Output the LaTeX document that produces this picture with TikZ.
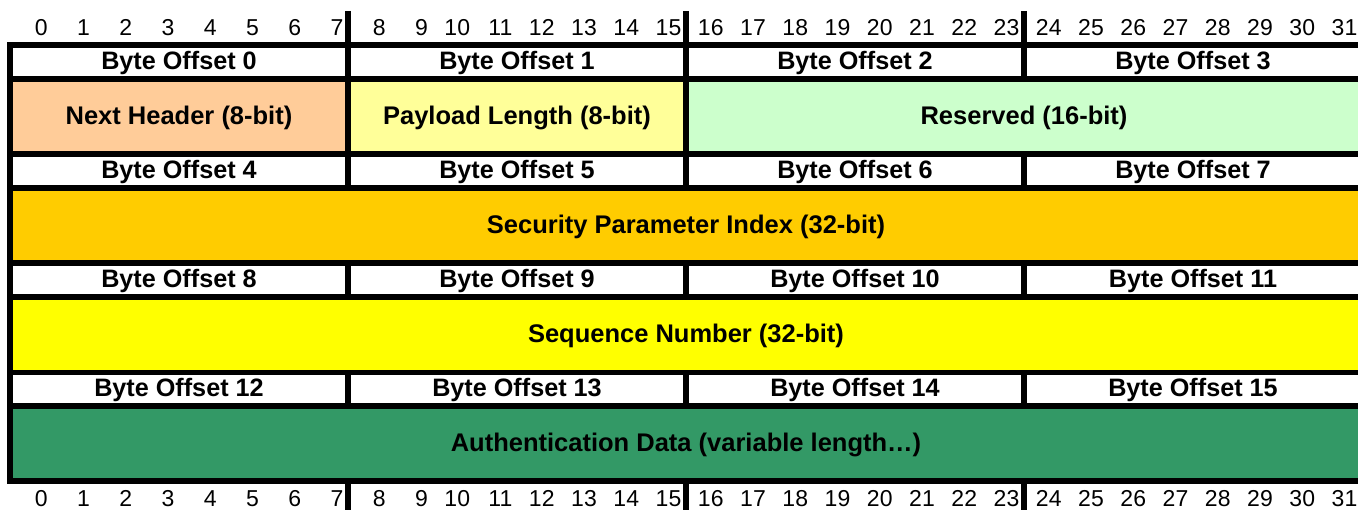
\documentclass[tikz,border=0pt]{standalone}
\usepackage{fontspec}
\setmainfont{Liberation Sans}
\definecolor{nexthdr}{HTML}{FFCC99}
\definecolor{paylen}{HTML}{FFFF99}
\definecolor{reserved}{HTML}{CCFFCC}
\definecolor{spi}{HTML}{FFCC00}
\definecolor{seqno}{HTML}{FFFF00}
\definecolor{authdata}{HTML}{339966}
\begin{document}
\begin{tikzpicture}[x=1pt,y=-1pt,
  frame/.style={line width=5.5pt},
  bitnum/.style={font=\fontsize{23}{23}\selectfont, inner sep=0pt, anchor=east},
  offlabel/.style={font=\bfseries\fontsize{25.2}{25}\selectfont, inner sep=0pt, anchor=base},
  fieldlabel/.style={font=\bfseries\fontsize{25.5}{26}\selectfont, inner sep=0pt, anchor=base}]
\useasboundingbox (0,0) rectangle (1358,510);
\clip (0,0) rectangle (1358,510);

% field backgrounds
\fill[nexthdr]  (10,79)  rectangle (348,154);
\fill[paylen]   (348,79) rectangle (686,154);
\fill[reserved] (686,79) rectangle (1365,154);
\fill[spi]      (10,188) rectangle (1365,263);
\fill[seqno]    (10,297) rectangle (1365,372.5);
\fill[authdata] (10,406) rectangle (1365,481);

% horizontal rules and left border
\foreach \y in {45,79,154,188,263,297,372.5,406,481}
  \draw[frame] (7.25,\y) -- (1368,\y);
\draw[frame] (10,42.25) -- (10,483.75);

% byte separators in the offset rows
\foreach \a/\b in {45/79,154/188,263/297,372.5/406}
  \foreach \x in {348,686,1024}
    \draw[frame] (\x,\a) -- (\x,\b);
\foreach \x in {348,686}
  \draw[frame] (\x,79) -- (\x,154);

% byte marks in the bit-number rows
\foreach \x in {348,686,1024} {
  \draw[frame] (\x,11) -- (\x,45);
  \draw[frame] (\x,481) -- (\x,515);
}

% bit numbers
\foreach \i in {0,...,31} {
  \node[bitnum] (tb\i) at ({10+42.25*(\i+1)-4.5},27.5) {\i};
  \node[bitnum] (bb\i) at ({10+42.25*(\i+1)-4.5},498.5) {\i};
}

% byte offset labels
\foreach \r/\yb in {0/69.5,1/178.5,2/287.5,3/396.75}
  \foreach \c/\xc in {0/179,1/517,2/855,3/1193} {
    \pgfmathtruncatemacro{\n}{4*\r+\c}
    \node[offlabel] (off\n) at (\xc,\yb) {Byte Offset \n};
  }

% field labels
\node[fieldlabel] (nh)   at (179,124.5)  {Next Header (8-bit)};
\node[fieldlabel] (pl)   at (517,124.5)  {Payload Length (8-bit)};
\node[fieldlabel] (rsv)  at (1024,124.5) {Reserved (16-bit)};
\node[fieldlabel] (spi)  at (686,233.5)  {Security Parameter Index (32-bit)};
\node[fieldlabel] (seq)  at (686,342.75) {Sequence Number (32-bit)};
\node[fieldlabel] (auth) at (686,451.5)  {Authentication Data (variable length\ldots)};
\end{tikzpicture}
\end{document}
